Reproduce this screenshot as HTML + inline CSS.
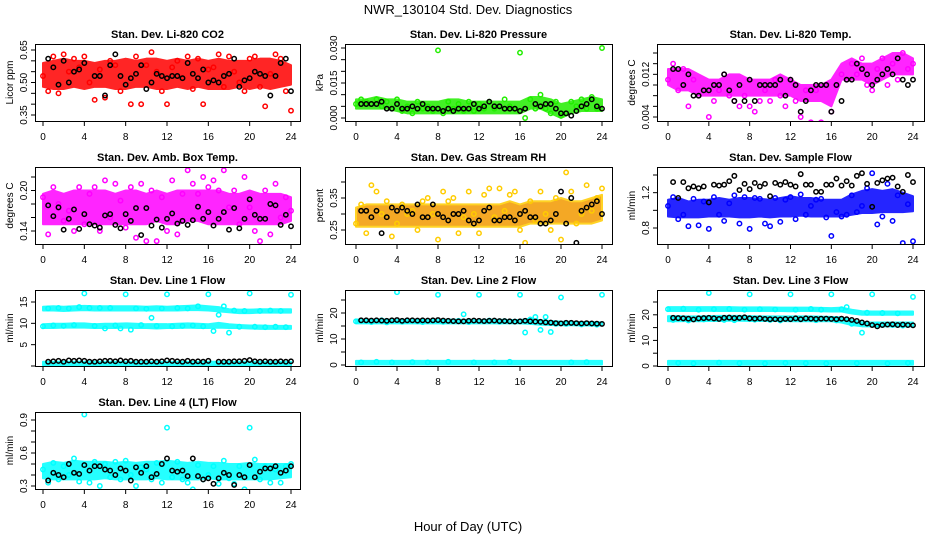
<!DOCTYPE html>
<html><head><meta charset="utf-8"><style>
html,body{margin:0;padding:0;background:#fff;}
svg{display:block;font-family:"Liberation Sans",Arial,sans-serif;}
</style></head><body>
<svg id="chart" width="936" height="540" viewBox="0 0 936 540" xmlns="http://www.w3.org/2000/svg">
<rect x="0" y="0" width="936" height="540" fill="#fff"/>
<text x="468" y="14" text-anchor="middle" font-size="13">NWR_130104  Std. Dev. Diagnostics</text>
<text x="468" y="531" text-anchor="middle" font-size="13">Hour of Day (UTC)</text>
</svg>
<script>
// ---------- x categories ----------
const xTickLabels = [0,4,8,12,16,20,24];

// ---------- P1 CO2 ----------
const co2BandLo = [0.48,0.47,0.47,0.48,0.47,0.48,0.48,0.47,0.47,0.48,0.48,0.47,0.47,0.48,0.47,0.48,0.47,0.47,0.47,0.48,0.47,0.48,0.47,0.48,0.49];
const co2BandHi = [0.59,0.60,0.61,0.60,0.60,0.59,0.60,0.60,0.61,0.60,0.61,0.61,0.60,0.61,0.60,0.61,0.60,0.61,0.60,0.60,0.60,0.61,0.61,0.60,0.58];
const co2Pts = [0.53,0.46,0.62,0.45,0.63,0.55,0.61,0.57,0.62,0.50,0.42,0.56,0.43,0.60,0.58,0.46,0.30,0.40,0.62,0.40,0.58,0.64,0.55,0.46,0.40,0.57,0.60,0.52,0.62,0.47,0.61,0.40,0.56,0.57,0.63,0.48,0.62,0.55,0.50,0.46,0.61,0.62,0.48,0.39,0.54,0.63,0.61,0.46,0.37];
const co2Blk = [0.61,0.57,0.49,0.60,0.50,0.55,0.56,0.59,null,0.53,0.53,0.44,0.58,0.63,0.53,0.49,0.52,0.54,0.58,0.47,0.50,0.54,0.53,0.52,0.53,0.53,0.52,0.59,0.54,0.52,0.56,0.50,0.51,0.50,0.53,0.54,0.61,0.48,0.51,0.52,0.55,0.54,0.53,0.44,0.53,0.59,0.61,0.46];
const co2Ticks = [0.35,0.40,0.45,0.50,0.55,0.60,0.65];
const co2Labels = ["0.35","0.50","0.65"];

// ---------- P2 Pressure ----------
const presBandLo = [0.004,0.004,0.004,0.004,0.003,0.002,0.002,0.002,0.002,0.002,0.002,0.002,0.002,0.002,0.002,0.002,0.002,0.004,0.004,0.002,0.000,0.002,0.003,0.003,0.003];
const presBandHi = [0.008,0.008,0.009,0.008,0.008,0.007,0.007,0.007,0.007,0.008,0.008,0.007,0.007,0.007,0.007,0.007,0.007,0.009,0.009,0.008,0.006,0.007,0.008,0.009,0.008];
const presPts = [0.006,0.008,0.007,0.006,0.008,0.005,0.007,0.004,0.008,0.003,0.005,0.002,0.007,0.004,0.005,0.003,0.029,0.002,0.007,0.004,0.006,0.003,0.007,0.003,0.006,0.004,0.007,0.004,0.005,0.008,0.005,0.004,0.028,0.000,0.008,0.004,0.010,0.004,0.002,0.007,0.001,0.002,0.007,0.005,0.008,0.004,0.009,0.004,0.030];
const presBlk = [0.006,0.006,0.006,0.006,0.007,0.004,0.004,0.006,0.004,0.004,0.005,0.004,0.006,0.004,0.004,0.004,0.003,0.004,0.003,0.004,0.004,0.004,0.006,0.004,0.005,0.007,0.005,0.005,0.004,0.004,0.004,0.003,0.004,null,0.006,0.005,0.006,0.006,0.004,0.002,0.002,0.001,0.003,0.005,0.006,0.008,0.005,0.004];
const presTicks = [0.000,0.005,0.010,0.015,0.020,0.025,0.030];
const presLabels = ["0.000","0.015","0.030"];

// ---------- P3 Li-820 Temp ----------
const tempBandLo = [0.010,0.009,0.009,0.008,0.008,0.008,0.008,0.008,0.008,0.008,0.008,0.008,0.008,0.007,0.007,0.007,0.006,0.011,0.011,0.011,0.010,0.011,0.012,0.012,0.012];
const tempBandHi = [0.013,0.013,0.013,0.012,0.011,0.011,0.012,0.012,0.011,0.011,0.011,0.012,0.011,0.010,0.010,0.010,0.011,0.014,0.015,0.014,0.014,0.015,0.016,0.016,0.015];
const tempPts = [0.011,0.014,0.009,0.013,0.006,0.011,0.008,0.009,0.004,0.007,0.009,0.012,0.008,0.007,0.006,0.008,0.006,0.005,0.007,0.009,0.007,0.011,0.008,0.006,0.011,0.007,0.004,0.009,0.003,0.009,0.003,0.010,0.005,0.010,0.012,0.011,0.014,0.012,0.015,0.010,0.009,0.013,0.015,0.010,0.014,0.011,0.016,0.013,0.014];
const tempBlk = [0.013,0.013,0.010,0.012,0.008,0.008,0.009,0.009,0.010,0.010,0.012,0.009,0.007,0.010,0.007,0.011,0.007,0.010,0.010,0.010,0.010,0.011,0.008,0.011,0.010,0.005,0.007,0.009,0.010,0.010,0.010,0.005,0.010,0.007,0.011,0.011,0.014,0.013,0.012,0.010,0.011,0.012,0.013,0.012,0.015,0.011,0.010,0.011];
const tempTicks = [0.004,0.006,0.008,0.010,0.012,0.014,0.016];
const tempLabels = ["0.004","0.012"];

// ---------- P4 Amb Box Temp ----------
const ambBandLo = [0.150,0.150,0.150,0.150,0.150,0.150,0.150,0.150,0.150,0.150,0.150,0.155,0.150,0.150,0.155,0.155,0.150,0.150,0.150,0.150,0.150,0.150,0.150,0.150,0.155];
const ambBandHi = [0.195,0.200,0.195,0.200,0.200,0.200,0.200,0.195,0.200,0.200,0.195,0.200,0.195,0.200,0.200,0.200,0.200,0.200,0.195,0.195,0.200,0.195,0.195,0.195,0.190];
const ambPts = [0.190,0.135,0.205,0.180,0.155,0.170,0.140,0.205,0.150,0.195,0.205,0.140,0.215,0.160,0.210,0.185,0.145,0.205,0.130,0.210,0.125,0.200,0.125,0.190,0.140,0.215,0.135,0.195,0.230,0.210,0.195,0.220,0.205,0.215,0.200,0.230,0.175,0.200,0.150,0.220,0.175,0.140,0.125,0.200,0.135,0.210,0.160,0.190,0.170];
const ambBlk = [0.178,0.162,0.175,0.142,0.158,0.172,0.143,0.165,0.150,0.148,0.145,0.163,0.165,0.149,0.144,0.165,0.155,0.174,0.134,0.174,0.148,0.157,0.145,0.158,0.166,0.151,0.155,0.149,0.156,0.176,0.158,0.168,0.148,0.158,0.168,0.142,0.174,0.144,0.158,0.187,0.164,0.158,0.158,0.180,0.178,0.149,0.164,0.147];
const ambTicks = [0.14,0.16,0.18,0.20,0.22];
const ambLabels = ["0.14","0.20"];

// ---------- P5 Gas Stream RH ----------
const rhBandLo = [0.26,0.26,0.26,0.26,0.26,0.26,0.26,0.26,0.26,0.26,0.26,0.26,0.26,0.26,0.26,0.26,0.26,0.27,0.27,0.27,0.27,0.27,0.27,0.27,0.28];
const rhBandHi = [0.32,0.33,0.33,0.33,0.33,0.33,0.33,0.33,0.33,0.33,0.33,0.33,0.33,0.33,0.33,0.34,0.33,0.34,0.34,0.34,0.35,0.34,0.34,0.35,0.36];
const rhPts = [0.27,0.33,0.24,0.39,0.37,0.30,0.34,0.23,0.27,0.33,0.30,0.31,0.25,0.34,0.35,0.30,0.22,0.37,0.34,0.35,0.24,0.29,0.37,0.30,0.24,0.36,0.38,0.29,0.38,0.31,0.36,0.37,0.25,0.21,0.34,0.28,0.37,0.30,0.25,0.35,0.22,0.43,0.37,0.27,0.30,0.39,0.31,0.35,0.38];
const rhBlk = [0.31,0.31,0.29,0.31,0.24,0.29,0.32,0.31,0.32,0.31,0.30,0.33,0.29,0.29,0.33,0.30,0.29,0.28,0.30,0.30,0.31,0.28,0.27,0.28,0.31,0.32,0.28,0.28,0.29,0.29,0.28,0.30,0.31,0.29,0.29,0.27,0.27,0.28,0.30,0.37,0.27,0.35,0.21,0.31,0.32,0.33,0.34,0.30];
const rhTicks = [0.25,0.30,0.35,0.40];
const rhLabels = ["0.25","0.35"];

// ---------- P6 Sample Flow ----------
const sfBandLo = [0.93,0.92,0.92,0.92,0.93,0.93,0.93,0.92,0.92,0.93,0.92,0.93,0.93,0.94,0.93,0.93,0.93,0.93,0.95,0.97,0.97,0.98,0.98,0.98,0.99];
const sfBandHi = [1.12,1.14,1.10,1.12,1.12,1.14,1.12,1.14,1.14,1.13,1.12,1.14,1.16,1.14,1.14,1.12,1.12,1.12,1.18,1.22,1.24,1.22,1.24,1.20,1.16];
const sfPts = [1.05,1.15,0.90,0.95,0.82,1.13,0.83,1.10,0.79,1.15,0.95,0.88,1.08,1.17,0.85,1.15,0.79,1.14,1.13,0.85,0.82,1.14,0.87,1.12,1.15,0.90,1.18,0.95,1.05,1.12,1.13,0.92,0.71,0.98,0.93,0.95,1.17,0.98,1.05,1.25,1.42,0.84,0.93,1.30,0.88,1.17,0.63,1.07,0.65];
const sfBlk = [1.32,1.14,1.32,1.25,1.27,1.25,1.27,1.09,1.29,1.28,1.29,1.33,1.39,1.23,1.30,1.24,1.31,1.27,1.30,1.16,1.31,1.29,1.32,1.29,1.27,1.41,1.29,1.29,1.21,1.21,1.29,1.29,1.36,1.28,1.33,1.28,1.39,1.42,1.30,1.04,1.31,1.34,1.36,1.37,1.27,1.21,1.40,1.32];
const sfTicks = [0.8,1.0,1.2,1.4];
const sfLabels = ["0.8","1.2"];

// ---------- P7 Line 1 Flow ----------
const l1BandALo = [13.0,13.0,12.9,13.0,13.1,13.0,13.0,13.0,13.0,13.0,13.0,13.0,13.0,13.0,13.1,13.1,13.0,12.8,12.6,12.4,12.4,12.5,12.5,12.5,12.5];
const l1BandAHi = [13.9,14.0,13.9,14.0,14.1,14.0,14.0,14.0,14.0,14.0,13.9,14.0,13.9,14.0,14.1,14.2,14.0,13.8,13.3,13.2,13.2,13.3,13.3,13.3,13.3];
const l1BandBLo = [8.9,8.9,9.0,9.0,9.0,8.9,8.9,8.9,9.0,8.9,8.9,8.8,8.9,8.9,9.0,8.9,8.9,9.0,8.9,8.9,8.8,8.7,8.7,8.7,8.7];
const l1BandBHi = [9.8,9.9,9.9,10.0,10.0,9.8,9.9,9.9,10.0,9.9,9.8,9.8,9.8,9.9,10.0,9.9,9.8,10.1,9.8,9.6,9.5,9.5,9.4,9.4,9.4];
const l1BandCLo = [0.2,0.2,0.2,0.2,0.2,0.2,0.2,0.2,0.2,0.2,0.2,0.2,0.2,0.2,0.2,0.2,0.2,0.2,0.2,0.2,0.2,0.2,0.2,0.2,0.2];
const l1BandCHi = [1.0,1.0,1.0,1.0,1.0,1.0,1.0,1.0,1.0,1.0,1.0,1.0,1.0,1.0,1.0,1.0,1.0,1.0,1.0,1.0,1.0,1.0,1.0,1.0,1.0];
const l1Pts = [9.3,13.5,9.5,13.6,9.4,13.5,9.6,13.8,17.0,13.6,9.4,13.6,8.8,13.6,9.5,8.8,16.8,8.5,13.5,9.6,13.4,11.3,9.4,13.5,16.8,9.3,13.6,9.4,13.5,9.5,14.0,9.3,16.8,8.2,12.0,14.0,7.8,13.0,9.2,12.9,17.0,9.2,12.9,9.1,13.0,9.2,12.9,9.1,16.7];
const l1Blk = [1.0,1.1,1.2,1.0,1.3,1.2,1.3,1.2,1.0,1.0,1.1,1.2,1.2,1.1,1.3,1.1,1.2,1.0,1.0,1.0,1.1,1.0,1.1,1.3,1.2,1.1,1.0,1.2,1.0,1.1,1.0,1.2,null,1.0,1.0,1.0,1.1,1.1,1.2,1.4,1.1,1.0,1.1,1.0,1.0,1.1,1.0,1.1];
const l1Ticks = [0,5,10,15];
const l1Labels = ["5","10","15"];

// ---------- P8 Line 2 Flow ----------
const l2BandALo = [16.0,16.0,16.0,16.0,16.0,16.0,16.0,16.0,16.0,16.0,16.0,16.0,16.0,16.0,16.0,16.0,16.0,15.8,15.5,15.4,15.3,15.3,15.2,15.2,15.2];
const l2BandAHi = [17.5,17.4,17.5,17.5,17.4,17.4,17.5,17.4,17.4,17.5,17.4,17.4,17.3,17.4,17.4,17.3,17.3,17.8,17.2,16.9,16.7,16.6,16.5,16.5,16.4];
const l2BandCLo = [0.2,0.2,0.2,0.2,0.2,0.2,0.2,0.2,0.2,0.2,0.2,0.2,0.2,0.2,0.2,0.2,0.2,0.2,0.2,0.2,0.2,0.2,0.2,0.2,0.2];
const l2BandCHi = [1.6,1.6,1.6,1.6,1.6,1.6,1.6,1.6,1.6,1.6,1.6,1.6,1.6,1.6,1.6,1.6,1.6,1.6,1.6,1.6,1.6,1.6,1.6,1.6,1.6];
const l2Pts = [16.8,1.0,17.0,16.5,1.2,17.2,16.4,1.0,28.0,16.6,17.0,1.1,16.8,16.5,1.0,17.1,27.0,16.6,1.2,16.8,17.0,19.5,16.5,1.0,27.0,16.8,17.1,1.0,16.6,16.9,1.2,16.7,27.0,12.5,17.5,18.5,13.5,18.5,12.7,15.8,26.0,15.8,1.0,16.0,15.6,1.1,15.8,15.5,27.0];
const l2Blk = [17.2,17.2,17.1,17.2,17.1,17.0,17.2,17.3,17.0,17.2,17.2,17.1,17.2,17.1,17.2,17.3,17.1,17.0,16.9,16.8,16.8,17.0,17.1,17.0,16.9,17.0,17.1,16.9,16.9,16.8,16.7,16.8,17.0,16.8,16.7,16.6,16.4,16.3,16.1,16.0,16.2,16.2,16.1,16.0,16.1,16.0,15.9,15.8];
const l2Ticks = [0,5,10,15,20,25];
const l2Labels = ["0","10","20"];

// ---------- P9 Line 3 Flow ----------
const l3BandALo = [21.5,21.5,21.5,21.5,21.6,21.5,21.5,21.5,21.5,21.5,21.5,21.5,21.4,21.5,21.5,21.4,21.3,21.3,20.5,20.0,20.0,20.0,20.0,20.0,20.0];
const l3BandAHi = [23.0,23.0,23.0,23.0,23.0,23.0,23.0,22.9,22.9,22.9,22.9,22.8,22.8,22.8,22.8,22.7,22.6,22.8,22.0,21.4,21.3,21.3,21.3,21.3,21.3];
const l3BandBLo = [17.5,17.5,17.6,17.5,17.6,17.6,17.7,17.7,17.6,17.6,17.6,17.6,17.5,17.5,17.5,17.5,17.5,17.0,16.0,15.5,15.5,15.5,15.5,15.5,15.5];
const l3BandBHi = [19.5,19.5,19.4,19.4,19.5,19.6,19.6,19.6,19.5,19.4,19.4,19.4,19.4,19.4,19.4,19.3,19.2,19.0,18.0,17.0,17.0,17.0,17.0,17.0,17.0];
const l3BandCLo = [0.5,0.5,0.5,0.5,0.5,0.5,0.5,0.5,0.5,0.5,0.5,0.5,0.5,0.5,0.5,0.5,0.5,0.5,0.5,0.5,0.5,0.5,0.5,0.5,0.5];
const l3BandCHi = [2.0,2.0,2.0,2.0,2.0,2.0,2.0,2.0,2.0,2.0,2.0,2.0,2.0,2.0,2.0,2.0,2.0,2.0,2.0,2.0,2.0,2.0,2.0,2.0,2.0];
const l3Pts = [22.2,18.0,1.2,22.4,17.8,1.0,22.0,18.2,28.5,22.2,1.3,18.0,22.3,17.9,1.1,22.0,28.0,18.1,22.2,1.0,18.0,22.1,17.8,1.2,28.0,22.0,18.2,1.1,22.3,17.9,22.0,1.0,28.0,17.8,22.2,23.0,16.5,1.1,13.0,20.8,28.0,16.2,20.7,1.0,16.0,20.6,15.8,1.2,27.0];
const l3Blk = [18.8,18.7,18.6,18.5,18.2,18.6,18.7,18.8,18.6,18.4,18.8,18.9,18.7,18.8,19.0,18.6,18.5,18.6,18.4,18.3,18.3,18.2,18.4,18.3,18.6,18.3,18.6,18.5,18.4,18.5,18.5,18.4,18.3,18.5,18.3,18.0,17.6,17.0,16.6,16.0,15.5,16.0,16.2,16.3,16.0,16.2,16.0,15.9];
const l3Ticks = [0,5,10,15,20,25];
const l3Labels = ["0","10","20"];

// ---------- P10 Line 4 (LT) Flow ----------
const l4BandLo = [0.37,0.36,0.36,0.36,0.36,0.36,0.37,0.36,0.36,0.36,0.36,0.37,0.36,0.36,0.36,0.36,0.37,0.36,0.36,0.36,0.36,0.36,0.36,0.37,0.38];
const l4BandHi = [0.50,0.52,0.51,0.53,0.52,0.52,0.52,0.51,0.52,0.51,0.52,0.52,0.53,0.52,0.51,0.52,0.51,0.51,0.50,0.50,0.51,0.50,0.50,0.50,0.50];
const l4Pts = [0.45,0.33,0.51,0.36,0.48,0.40,0.55,0.34,0.95,0.33,0.52,0.30,0.50,0.38,0.52,0.36,0.53,0.40,0.30,0.47,0.45,0.36,0.51,0.33,0.83,0.38,0.52,0.36,0.33,0.27,0.49,0.36,0.40,0.48,0.32,0.53,0.37,0.32,0.48,0.27,0.83,0.54,0.36,0.48,0.33,0.45,0.33,0.48,0.50];
const l4Blk = [0.35,0.42,0.40,0.38,0.50,0.42,0.41,0.49,0.44,0.48,0.48,0.45,0.44,0.40,0.46,0.44,0.35,0.47,0.42,0.48,0.38,0.41,0.50,0.55,0.44,0.43,0.44,0.39,0.55,0.39,0.36,0.37,0.32,0.37,0.42,0.40,0.31,0.40,0.38,0.49,0.38,0.43,0.46,0.46,0.48,0.42,0.44,0.48];
const l4Ticks = [0.3,0.4,0.5,0.6,0.7,0.8,0.9];
const l4Labels = ["0.3","0.6","0.9"];

// ---------- rendering ----------
const NS = "http://www.w3.org/2000/svg";
const svg = document.getElementById("chart");
function mk(tag, attrs, parent){
  const e = document.createElementNS(NS, tag);
  for (const k in attrs) e.setAttribute(k, attrs[k]);
  parent.appendChild(e);
  return e;
}
const COLS = [{l:35,r:300,x0:43,x24:291},{l:345,r:612,x0:356,x24:602},{l:657,r:924,x0:668,x24:913}];
const ROWS = [{t:44,b:121},{t:167,b:244},{t:290,b:366},{t:412,b:489}];

function drawPanel(cfg){
  const C = COLS[cfg.col], R = ROWS[cfg.row];
  const g = mk("g", {}, svg);
  
  
  const xs = h => C.x0 + (h/24)*(C.x24 - C.x0);
  const ys = v => cfg.p0 + (v - cfg.v0)*(cfg.p1 - cfg.p0)/(cfg.v1 - cfg.v0);
  const cid = "clip-" + cfg.name;
  const cp = mk("clipPath", {id:cid}, g);
  mk("rect", {x:C.l, y:R.t, width:C.r-C.l, height:R.b-R.t}, cp);
  const plot = mk("g", {"clip-path":"url(#"+cid+")"}, g);
  
  
  cfg.bands.forEach((b, bi) => {
    let pts = [];
    b[0].forEach((v,i) => pts.push(xs(i) + "," + ys(v)));
    for (let i = b[1].length-1; i >= 0; i--) pts.push(xs(i) + "," + ys(b[1][i]));
    const poly = mk("polygon", {points: pts.join(" "), fill: cfg.bandColor, stroke: cfg.color, "stroke-width": 2, "stroke-linejoin":"round", opacity: 0.85}, plot);
    
    
  });
  cfg.pts.forEach((v,i) => {
    if (v === null) return;
    const c = mk("circle", {cx: xs(i*0.5), cy: ys(v), r: 2.2, fill: "none", stroke: cfg.color, "stroke-width": 1.5}, plot);
    
    
  });
  cfg.blk.forEach((v,i) => {
    if (v === null) return;
    const c = mk("circle", {cx: xs(0.5 + i*0.5), cy: ys(v), r: 2.2, fill: "none", stroke: "#000", "stroke-width": 1.5}, plot);
    
    
  });
  const box = mk("rect", {x:C.l+0.5, y:R.t+0.5, width:C.r-C.l, height:R.b-R.t, fill:"none", stroke:"#000", "stroke-width":1}, g);
  
  
  const xa = mk("g", {}, g);
  
  
  xTickLabels.forEach(h => {
    mk("line", {x1:xs(h), x2:xs(h), y1:R.b+0.5, y2:R.b+5, stroke:"#000"}, xa);
    const t = mk("text", {x:xs(h), y:R.b+19, "text-anchor":"middle", "font-size":10}, xa);
    t.textContent = h;
    
    
  });
  const ya = mk("g", {}, g);
  
  
  cfg.ticks.forEach(v => {
    mk("line", {x1:C.l-4, x2:C.l+0.5, y1:ys(v), y2:ys(v), stroke:"#000"}, ya);
  });
  cfg.labels.forEach(s => {
    const v = parseFloat(s), y = ys(v), x = C.l - 8;
    const t = mk("text", {x:x, y:y, "text-anchor":"middle", "font-size":10, transform:"rotate(-90 "+x+" "+y+")"}, ya);
    t.textContent = s;
    
    
  });
  const ym = (R.t + R.b)/2, yx = C.l - 22;
  const yt = mk("text", {x:yx, y:ym, "text-anchor":"middle", "font-size":10, transform:"rotate(-90 "+yx+" "+ym+")"}, g);
  yt.textContent = cfg.ylab;
  
  
  const tt = mk("text", {x:(C.l+C.r)/2, y:R.t-6, "text-anchor":"middle", "font-size":11, "font-weight":"bold"}, g);
  tt.textContent = cfg.title;
  
  
}

const RED="#ff0000", GRN="#22ee00", MAG="#ff00ff", BLU="#0000ff", CYA="#00ffff";
drawPanel({name:"panel-co2", col:0,row:0,title:"Stan. Dev. Li-820 CO2",ylab:"Licor ppm",v0:0.35,p0:115,v1:0.65,p1:50,ticks:co2Ticks,labels:co2Labels,color:RED,bandColor:RED,bands:[[co2BandLo,co2BandHi]],pts:co2Pts,blk:co2Blk});
drawPanel({name:"panel-pressure", col:1,row:0,title:"Stan. Dev. Li-820 Pressure",ylab:"kPa",v0:0,p0:118,v1:0.03,p1:48,ticks:presTicks,labels:presLabels,color:GRN,bandColor:GRN,bands:[[presBandLo,presBandHi]],pts:presPts,blk:presBlk});
drawPanel({name:"panel-licor-temp", col:2,row:0,title:"Stan. Dev. Li-820 Temp.",ylab:"degrees C",v0:0.004,p0:117,v1:0.016,p1:53,ticks:tempTicks,labels:tempLabels,color:MAG,bandColor:MAG,bands:[[tempBandLo,tempBandHi]],pts:tempPts,blk:tempBlk});
drawPanel({name:"panel-amb-box-temp", col:0,row:1,title:"Stan. Dev. Amb. Box Temp.",ylab:"degrees C",v0:0.14,p0:231,v1:0.22,p1:177,ticks:ambTicks,labels:ambLabels,color:MAG,bandColor:MAG,bands:[[ambBandLo,ambBandHi]],pts:ambPts,blk:ambBlk});
drawPanel({name:"panel-gas-rh", col:1,row:1,title:"Stan. Dev. Gas Stream RH",ylab:"percent",v0:0.25,p0:230,v1:0.40,p1:182,ticks:rhTicks,labels:rhLabels,color:"#ffcc00",bandColor:"#f39a00",bands:[[rhBandLo,rhBandHi]],pts:rhPts,blk:rhBlk});
drawPanel({name:"panel-sample-flow", col:2,row:1,title:"Stan. Dev. Sample Flow",ylab:"ml/min",v0:0.8,p0:228,v1:1.4,p1:175,ticks:sfTicks,labels:sfLabels,color:BLU,bandColor:BLU,bands:[[sfBandLo,sfBandHi]],pts:sfPts,blk:sfBlk});
drawPanel({name:"panel-line1-flow", col:0,row:2,title:"Stan. Dev. Line 1 Flow",ylab:"ml/min",v0:0,p0:366,v1:15,p1:302,ticks:l1Ticks,labels:l1Labels,color:CYA,bandColor:CYA,bands:[[l1BandALo,l1BandAHi],[l1BandBLo,l1BandBHi],[l1BandCLo,l1BandCHi]],pts:l1Pts,blk:l1Blk});
drawPanel({name:"panel-line2-flow", col:1,row:2,title:"Stan. Dev. Line 2 Flow",ylab:"ml/min",v0:0,p0:365,v1:25,p1:300,ticks:l2Ticks,labels:l2Labels,color:CYA,bandColor:CYA,bands:[[l2BandALo,l2BandAHi],[l2BandCLo,l2BandCHi]],pts:l2Pts,blk:l2Blk});
drawPanel({name:"panel-line3-flow", col:2,row:2,title:"Stan. Dev. Line 3 Flow",ylab:"ml/min",v0:0,p0:366,v1:25,p1:302,ticks:l3Ticks,labels:l3Labels,color:CYA,bandColor:CYA,bands:[[l3BandALo,l3BandAHi],[l3BandBLo,l3BandBHi],[l3BandCLo,l3BandCHi]],pts:l3Pts,blk:l3Blk});
drawPanel({name:"panel-line4-flow", col:0,row:3,title:"Stan. Dev. Line 4 (LT) Flow",ylab:"ml/min",v0:0.3,p0:486,v1:0.9,p1:420,ticks:l4Ticks,labels:l4Labels,color:CYA,bandColor:CYA,bands:[[l4BandLo,l4BandHi]],pts:l4Pts,blk:l4Blk});
</script>
</body></html>
